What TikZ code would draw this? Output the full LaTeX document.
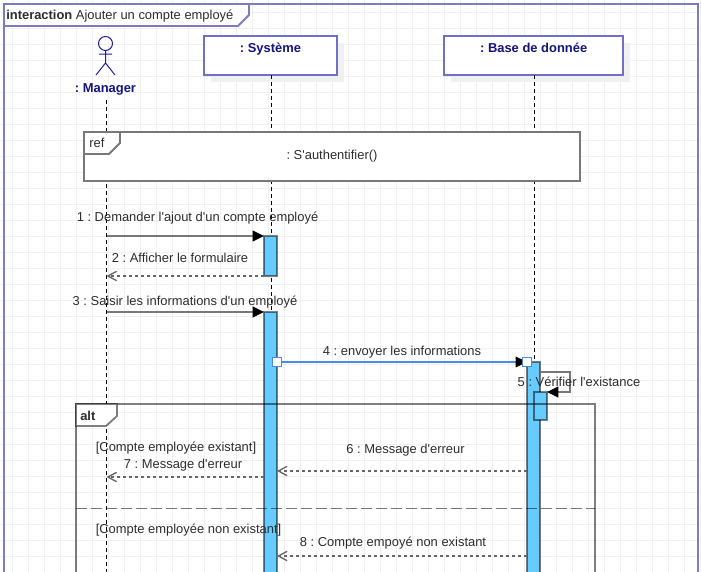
\documentclass[tikz,border=0pt]{standalone}
\usepackage{fontspec}
\setmainfont{Liberation Sans}[Ligatures=TeXOff]
\usepackage{xcolor}
\usepackage{tikz}
\usetikzlibrary{arrows.meta,positioning,calc}
\definecolor{framecol}{RGB}{125,125,190}
\definecolor{boxcol}{RGB}{112,112,200}
\definecolor{navytext}{RGB}{20,20,125}
\definecolor{actorcol}{RGB}{30,30,160}
\definecolor{linecol}{RGB}{120,120,120}
\definecolor{barcol}{RGB}{102,204,255}
\definecolor{handlecol}{RGB}{70,140,240}
\definecolor{labelcol}{RGB}{45,45,45}
\tikzset{
  gridline/.style={draw=black!6,line width=.7pt},
  lifebox/.style={draw=boxcol,fill=white,line width=1.3pt,anchor=north west,inner sep=0pt,outer sep=0pt,
    minimum height=29.25pt,font=\fontsize{9.7pt}{11pt}\selectfont\bfseries,text=navytext,text depth=11.5pt},
  boxshadow/.style={fill=black!6},
  lifeline/.style={draw=black,line width=.75pt,dash pattern=on 3pt off 2.25pt},
  actbar/.style={draw=black,draw opacity=.5,fill=barcol,line width=1.3pt,anchor=north west,inner sep=0pt,outer sep=0pt,minimum width=9.75pt},
  fragline/.style={draw=black,draw opacity=.5,line width=1.4pt},
  call/.style={draw=linecol,line width=1.4pt,-{Triangle[length=8.5pt,width=8pt,color=black]}},
  reply/.style={draw=black!60,line width=1pt,dash pattern=on 2.25pt off 2.25pt,-{Straight Barb[length=6.5pt,width=7pt]}},
  msglabel/.style={text=labelcol,inner sep=0pt},
  handle/.style={draw=handlecol,fill=white,line width=.75pt,inner sep=0pt,minimum size=7pt},
}
\begin{document}
\frenchspacing
\begin{tikzpicture}[x=.75pt,y=-.75pt,font=\fontsize{9.7pt}{11pt}\selectfont,>=Latex]
  \useasboundingbox (0,0) rectangle (701,572);
  \clip (0,0) rectangle (701,572);
  \fill[white] (0,0) rectangle (701,572);
  \foreach \gx in {12,28,...,700} \draw[gridline] (\gx,0)--(\gx,572);
  \foreach \gy in {12,28,...,572} \draw[gridline] (0,\gy)--(701,\gy);
  % interaction frame
  \draw[framecol,line width=1.4pt] (4,580)--(4,4)--(698,4)--(698,580);
  \draw[framecol,line width=1.4pt,fill=white] (4,4)--(249,4)--(249,15)--(238,26)--(4,26)--cycle;
  \node[anchor=west,inner sep=0pt,text=labelcol] (title) at (6,16) {\textbf{interaction} Ajouter un compte employé};
  % lifelines
  \coordinate (mgrtop) at (106.5,100);
  \coordinate (mgrend) at (106.5,572);
  \fill[boxshadow] (211,43) rectangle (344,82);
  \fill[boxshadow] (451,43) rectangle (630,82);
  \node[lifebox,minimum width=99.75pt] (sys) at (204,36) {: Système};
  \node[lifebox,minimum width=134.5pt] (base) at (444,36) {: Base de donnée};
  \coordinate (sysend) at (271.5,572);
  \coordinate (baseend) at (534.5,572);
  \draw[lifeline] (mgrtop)--(mgrend);
  \draw[lifeline] (sysend|-sys.south)--(sysend);
  \draw[lifeline] (baseend|-base.south)--(baseend);
  % actor
  \draw[actorcol,line width=.75pt] (105.5,43.5) circle (7)
     (105.5,50.5)--(105.5,63) (99,54)--(112,54) (96,75)--(105.5,63)--(115,75);
  \node[font=\fontsize{9.7pt}{11pt}\selectfont\bfseries,text=navytext,inner sep=0pt] (mgr) at (105.5,89) {: Manager};
  % ref
  \node[draw=linecol,fill=white,line width=1.4pt,anchor=north west,inner sep=0pt,outer sep=0pt,
     minimum width=372pt,minimum height=36.75pt,text=labelcol] (ref) at (84,132) {: S'authentifier()};
  \draw[linecol,line width=1.4pt] (84,154)--(109,154)--(120,143)--(120,132);
  \node[anchor=west,inner sep=0pt,text=labelcol] (reflbl) at (89,143) {ref};
  % activations
  \node[actbar,minimum height=30pt] (act1) at (264,236) {};
  \node[actbar,minimum height=200pt] (act2) at (264,312) {};
  \node[actbar,minimum height=170pt] (act3) at (527,362) {};
  \node[actbar,minimum height=21pt] (act4) at (534,392) {};
  % alt
  \draw[fragline] (76,580)--(76,404)--(595,404)--(595,580);
  \draw[fragline,fill=white] (76,404)--(117,404)--(117,416)--(106,426)--(76,426)--cycle;
  \draw[fragline,dash pattern=on 8.25pt off 3pt] (76,508.5)--(595,508.5);
  \node[anchor=west,inner sep=0pt,font=\fontsize{9.7pt}{11pt}\selectfont\bfseries,text=labelcol] (altlbl) at (80,416) {alt};
  % messages
  \coordinate (m2) at (0,276);
  \coordinate (m6) at (0,471);
  \coordinate (m7) at (0,477);
  \coordinate (m8) at (0,556);
  \coordinate (m4) at (0,362);
  \draw[call] (mgrtop|-act1.north)--(act1.north west);
  \draw[reply] (act1.west|-m2)--(mgrtop|-m2);
  \draw[call] (mgrtop|-act2.north)--(act2.north west);
  \draw[call,draw=handlecol,line width=.9pt] (act2.east|-m4)--(act3.north west);
  \draw[call] (act3.east|-0,372)--(570,372)--(570,392)--(act4.north east);
  \draw[reply] (act3.west|-m6)--(act2.east|-m6);
  \draw[reply] (act2.west|-m7)--(mgrtop|-m7);
  \draw[reply] (act3.west|-m8)--(act2.east|-m8);
  \node[handle] (h1) at (act2.east|-m4) {};
  \node[handle] (h2) at (act3.north west) {};
  % labels
  \node[msglabel] (l1) at (197.5,218.5) {1 : Demander l'ajout d'un compte employé};
  \node[msglabel] (l2) at (180,257.5) {2 : Afficher le formulaire};
  \node[msglabel] (l3) at (185,302.5) {3 : Saisir les informations d'un employé};
  \node[msglabel] (l4) at (402,352.5) {4 : envoyer les informations};
  \node[msglabel] (l5) at (579,381.5) {5 : Vérifier l'existance};
  \node[msglabel] (l6) at (405.5,450.5) {6 : Message d'erreur};
  \node[msglabel] (g1) at (176,448.5) {[Compte employée existant]};
  \node[msglabel] (l7) at (183,465.5) {7 : Message d'erreur};
  \node[msglabel] (g2) at (188.5,530.5) {[Compte employée non existant]};
  \node[msglabel] (l8) at (393,543.5) {8 : Compte empoyé non existant};
\end{tikzpicture}
\end{document}
